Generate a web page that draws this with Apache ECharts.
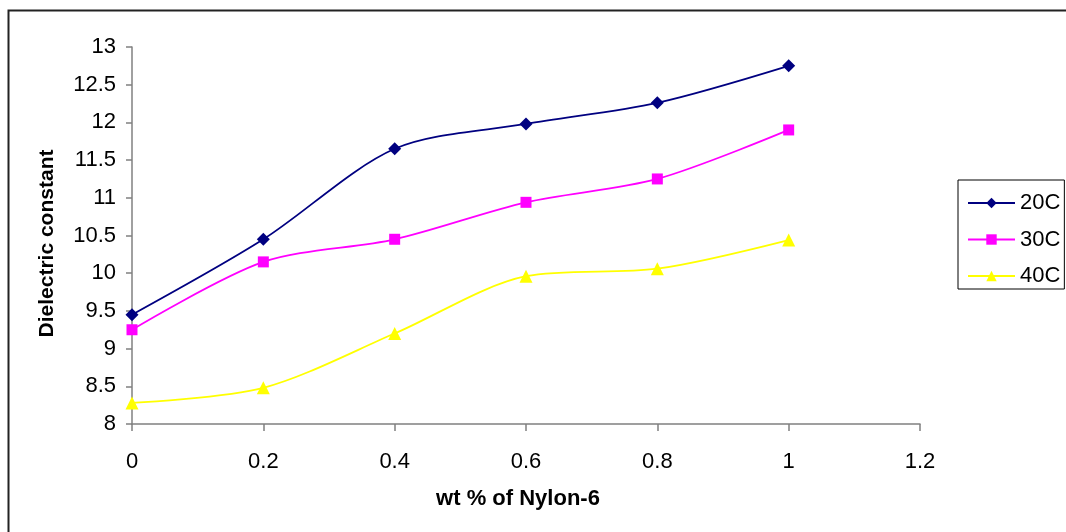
<!DOCTYPE html>
<html>
<head>
<meta charset="utf-8">
<script src="https://cdn.jsdelivr.net/npm/echarts@6/dist/echarts.min.js"></script>
<style>
  html, body { margin: 0; padding: 0; background: #fff; }
  #chart { width: 1066px; height: 532px; }
</style>
</head>
<body>
<div id="chart"></div>
<script>
// Nylon-6 content (wt %) and measured dielectric constant at three temperatures
const wtPercent = [0, 0.2, 0.4, 0.6, 0.8, 1];
const eps20C = [9.45, 10.45, 11.65, 11.98, 12.26, 12.75];
const eps30C = [9.25, 10.15, 10.45, 10.94, 11.25, 11.9];
const eps40C = [8.28, 8.48, 9.2, 9.96, 10.06, 10.44];
const seriesNames = ['20C', '30C', '40C'];

const pairs = ys => wtPercent.map((x, i) => [x, ys[i]]);
const font = '"Liberation Sans", Arial, sans-serif';

const chart = echarts.init(document.getElementById('chart'));
chart.setOption({
  animation: false,
  backgroundColor: '#fff',
  graphic: [{
    type: 'rect',
    shape: { x: 8.5, y: 10.5, width: 1070, height: 540 },
    style: { fill: 'none', stroke: '#222', lineWidth: 2 },
    silent: true
  }],
  grid: { left: 132, right: 146, top: 47, bottom: 108 },
  legend: {
    orient: 'vertical',
    left: 958, top: 180,
    padding: [12, 4, 2, 9],
    itemGap: 14.5,
    itemWidth: 47, itemHeight: 13,
    borderColor: '#000', borderWidth: 1,
    textStyle: { fontFamily: font, fontSize: 22, color: '#000' },
    data: seriesNames
  },
  xAxis: {
    type: 'value',
    min: 0, max: 1.2, interval: 0.2,
    name: 'wt % of Nylon-6',
    nameLocation: 'middle',
    nameGap: 64,
    nameTextStyle: { fontFamily: font, fontSize: 22, fontWeight: 'bold', color: '#000', padding: [0, 16, 0, 0] },
    axisLine: { show: true, lineStyle: { color: '#808080', width: 1.5 } },
    axisTick: { show: true, length: 7, lineStyle: { color: '#808080', width: 1.5 } },
    axisLabel: { fontFamily: font, fontSize: 22, color: '#000', margin: 27 },
    splitLine: { show: false }
  },
  yAxis: {
    type: 'value',
    min: 8, max: 13, interval: 0.5,
    name: 'Dielectric constant',
    nameLocation: 'middle',
    nameGap: 74,
    nameTextStyle: { fontFamily: font, fontSize: 21, fontWeight: 'bold', color: '#000', padding: [0, 16, 0, 0] },
    axisLine: { show: true, lineStyle: { color: '#808080', width: 1.5 } },
    axisTick: { show: true, length: 6, lineStyle: { color: '#808080', width: 1.5 } },
    axisLabel: { fontFamily: font, fontSize: 22, color: '#000', margin: 16 },
    splitLine: { show: false }
  },
  series: [
    {
      name: seriesNames[0], type: 'line', smooth: 0.3,
      data: pairs(eps20C),
      symbol: 'diamond', symbolSize: 13,
      itemStyle: { color: '#000080' },
      lineStyle: { color: '#000080', width: 1.8 }
    },
    {
      name: seriesNames[1], type: 'line', smooth: 0.3,
      data: pairs(eps30C),
      symbol: 'rect', symbolSize: 11,
      itemStyle: { color: '#FF00FF' },
      lineStyle: { color: '#FF00FF', width: 1.8 }
    },
    {
      name: seriesNames[2], type: 'line', smooth: 0.3,
      data: pairs(eps40C),
      symbol: 'triangle', symbolSize: 13,
      itemStyle: { color: '#FFFF00' },
      lineStyle: { color: '#FFFF00', width: 1.8 }
    }
  ]
});
</script>
</body>
</html>
